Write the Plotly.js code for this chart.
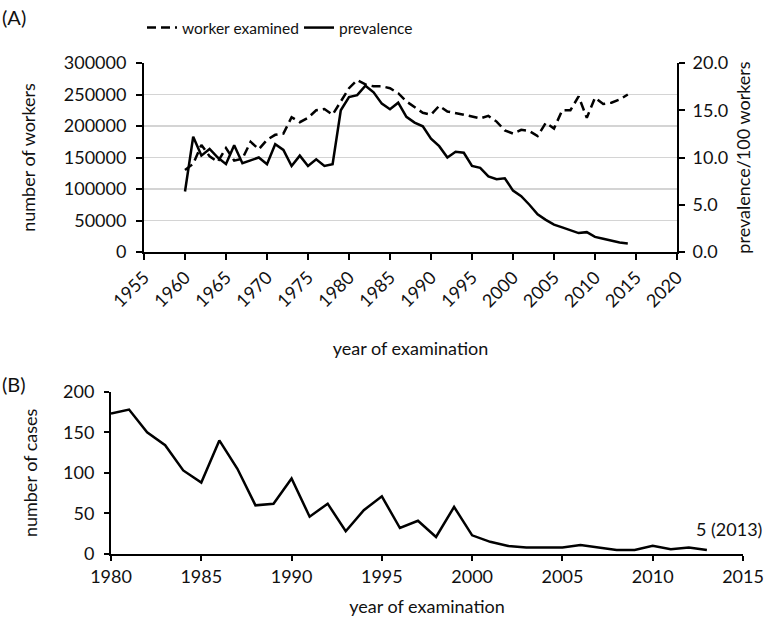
<!DOCTYPE html>
<html>
<head>
<meta charset="utf-8">
<script src="https://cdn.plot.ly/plotly-3.0.1.min.js"></script>
<style>html,body{margin:0;padding:0;background:#fff;}#chart{width:767px;height:625px;}</style>
</head>
<body>
<div id="chart"></div>
<script>
// Panel A data
const yearsA = [1960,1961,1962,1963,1964,1965,1966,1967,1968,1969,
  1970,1971,1972,1973,1974,1975,1976,1977,1978,1979,
  1980,1981,1982,1983,1984,1985,1986,1987,1988,1989,
  1990,1991,1992,1993,1994,1995,1996,1997,1998,1999,
  2000,2001,2002,2003,2004,2005,2006,2007,2008,2009,
  2010,2011,2012,2013,2014];
const workersExamined = [130000,140000,170000,152000,143000,165000,145000,148000,175000,163000,
  178000,186000,188000,214000,206000,213000,225000,227000,218000,240000,
  260000,273000,266000,263000,263000,260000,252000,239000,230000,221000,
  218000,232000,223000,221000,218000,215000,212000,216000,207000,193000,
  188000,194000,192000,184000,205000,196000,225000,225000,247000,213000,
  245000,235000,237000,242000,250000];
const prevalence = [6.4,12.2,10.2,10.9,10.0,9.3,11.3,9.4,9.7,10.0,
  9.3,11.4,10.8,9.1,10.2,9.1,9.8,9.1,9.3,15.0,
  16.4,16.6,17.6,16.9,15.7,15.1,15.8,14.3,13.7,13.3,
  12.0,11.2,10.0,10.6,10.5,9.1,8.9,8.0,7.7,7.8,
  6.5,5.9,5.0,4.0,3.4,2.9,2.6,2.3,2.0,2.1,
  1.6,1.4,1.2,1.0,0.9];
// Panel B data
const yearsB = [1980,1981,1982,1983,1984,1985,1986,1987,1988,1989,
  1990,1991,1992,1993,1994,1995,1996,1997,1998,1999,
  2000,2001,2002,2003,2004,2005,2006,2007,2008,2009,
  2010,2011,2012,2013];
const cases = [173,178,150,134,103,88,140,105,60,62,
  93,46,62,28,54,71,32,41,21,58,
  23,15,10,8,8,8,11,8,5,5,
  10,6,8,5];
const seriesNames = ["worker examined", "prevalence"];

const FONT = "Lato, 'Open Sans', sans-serif";
const txt = '#111';

const traces = [
  {x: yearsA, y: workersExamined, name: seriesNames[0], type: 'scatter', mode: 'lines',
   line: {color: '#000', width: 2.5, dash: '9px,5px'}, xaxis: 'x', yaxis: 'y'},
  {x: yearsA, y: prevalence, name: seriesNames[1], type: 'scatter', mode: 'lines',
   line: {color: '#000', width: 2.5}, xaxis: 'x', yaxis: 'y2'},
  {x: yearsB, y: cases, name: 'cases', type: 'scatter', mode: 'lines', showlegend: false,
   line: {color: '#000', width: 2.5}, xaxis: 'x2', yaxis: 'y3'}
];

const W = 767, H = 625;
const axBase = {showline: true, linecolor: '#000', linewidth: 2, ticks: 'outside', tickcolor: '#000',
  ticklen: 6, tickwidth: 2, zeroline: false, tickfont: {family: FONT, size: 18, color: txt}};

const layout = {
  width: W, height: H,
  margin: {l: 0, r: 0, t: 0, b: 0},
  paper_bgcolor: '#fff', plot_bgcolor: '#fff',
  font: {family: FONT, size: 18, color: txt},
  showlegend: true,
  legend: {orientation: 'h', x: 142/W, xanchor: 'left', y: 1 - 11/H, yanchor: 'top',
    font: {family: FONT, size: 15.5, color: txt}, itemwidth: 30, bgcolor: 'rgba(0,0,0,0)',
    entrywidth: 112, entrywidthmode: 'pixels'},
  xaxis: Object.assign({}, axBase, {domain: [144/W, 677/W], anchor: 'y', range: [1955, 2020], dtick: 5,
    tick0: 1955, tickangle: -45, showgrid: false,
    title: {text: 'year of examination', font: {family: FONT, size: 18, color: txt}, standoff: 32}}),
  yaxis: Object.assign({}, axBase, {domain: [1 - 252/H, 1 - 63/H], anchor: 'x', range: [0, 300000], dtick: 50000,
    tickformat: 'd', showgrid: true, gridcolor: '#d4d4d4', gridwidth: 1.5, ticklabelstandoff: 6,
    title: {text: 'number of workers', font: {family: FONT, size: 18, color: txt}, standoff: 23}}),
  yaxis2: Object.assign({}, axBase, {overlaying: 'y', side: 'right', anchor: 'x', range: [0, 20], dtick: 5,
    tickformat: '.1f', showgrid: false, ticklabelstandoff: 4,
    title: {text: 'prevalence/100 workers', font: {family: FONT, size: 18, color: txt}, standoff: 10}}),
  xaxis2: Object.assign({}, axBase, {domain: [111/W, 743/W], anchor: 'y3', range: [1980, 2015], dtick: 5,
    tick0: 1980, showgrid: false, ticklen: 5,
    title: {text: 'year of examination', font: {family: FONT, size: 18, color: txt}, standoff: 15}}),
  yaxis3: Object.assign({}, axBase, {domain: [1 - 554/H, 1 - 391.7/H], anchor: 'x2', range: [0, 200], dtick: 50,
    showgrid: false, ticklen: 5, ticklabelstandoff: 6,
    title: {text: 'number of cases', font: {family: FONT, size: 18, color: txt}, standoff: 21}}),
  annotations: [
    {text: '(A)', xref: 'paper', yref: 'paper', x: 0, y: 1 - 3/H, xanchor: 'left', yanchor: 'top',
     showarrow: false, font: {family: FONT, size: 20, color: txt}},
    {text: '(B)', xref: 'paper', yref: 'paper', x: 0, y: 1 - 370/H, xanchor: 'left', yanchor: 'top',
     showarrow: false, font: {family: FONT, size: 20, color: txt}},
    {text: '5 (2013)', xref: 'x2', yref: 'y3', x: 2013, y: 5, xanchor: 'center', yanchor: 'bottom',
     xshift: 22, yshift: 8, showarrow: false, font: {family: FONT, size: 18, color: txt}}
  ]
};

Plotly.newPlot('chart', traces, layout, {staticPlot: true, displayModeBar: false});
</script>
</body>
</html>
